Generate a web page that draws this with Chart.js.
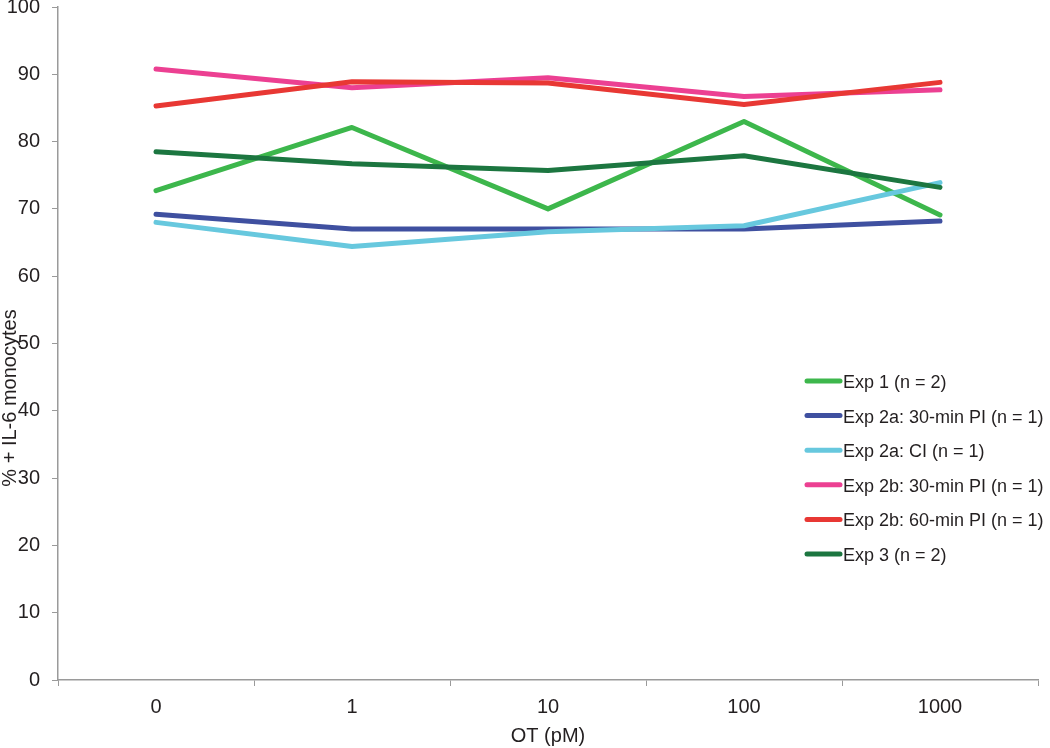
<!DOCTYPE html>
<html>
<head>
<meta charset="utf-8">
<script src="https://cdn.jsdelivr.net/npm/chart.js@4"></script>
<style>
  html, body { margin: 0; padding: 0; background: #fff; }
  #wrap { width: 1050px; height: 748px; }
</style>
</head>
<body>
<div id="wrap"><canvas id="c" width="1050" height="748"></canvas></div>
<script>
const categories = ['0', '1', '10', '100', '1000'];
const seriesLabels = [
  'Exp 1 (n = 2)',
  'Exp 2a: 30-min PI (n = 1)',
  'Exp 2a: CI (n = 1)',
  'Exp 2b: 30-min PI (n = 1)',
  'Exp 2b: 60-min PI (n = 1)',
  'Exp 3 (n = 2)'
];
const exp1      = [72.7, 82.1, 70.0, 83.0, 69.1];
const exp2aPI30 = [69.2, 67.0, 67.0, 67.0, 68.2];
const exp2aCI   = [68.0, 64.4, 66.6, 67.5, 73.9];
const exp2bPI30 = [90.8, 88.0, 89.5, 86.7, 87.7];
const exp2bPI60 = [85.3, 88.9, 88.7, 85.5, 88.8];
const exp3      = [78.5, 76.7, 75.7, 77.9, 73.2];
const yTitle = '% + IL-6 monocytes';
const xTitle = 'OT (pM)';

const colors = ['#3db74c', '#3f50a0', '#67c8de', '#ec4092', '#e83834', '#1c7640'];
const allSeries = [exp1, exp2aPI30, exp2aCI, exp2bPI30, exp2bPI60, exp3];

const FONT = 'Liberation Sans, Arial, sans-serif';
const TEXT = '#231f20';
const AXIS = '#9a9a9a';

const datasets = allSeries.map((d, i) => ({
  label: seriesLabels[i],
  data: d,
  borderColor: colors[i],
  backgroundColor: colors[i],
  borderWidth: 5,
  pointRadius: 0,
  pointHoverRadius: 0,
  tension: 0,
  fill: false,
  borderCapStyle: 'round',
  borderJoinStyle: 'round',
  order: allSeries.length - 1 - i
}));

const customLegend = {
  id: 'customLegend',
  afterDraw(chart) {
    const ctx = chart.ctx;
    ctx.save();
    ctx.font = '18px ' + FONT;
    ctx.textBaseline = 'middle';
    ctx.textAlign = 'left';
    chart.data.datasets.forEach((ds, i) => {
      const y = 381 + i * 34.6;
      ctx.strokeStyle = ds.borderColor;
      ctx.lineWidth = 5;
      ctx.lineCap = 'round';
      ctx.beginPath();
      ctx.moveTo(807, y);
      ctx.lineTo(840, y);
      ctx.stroke();
      ctx.fillStyle = TEXT;
      ctx.fillText(ds.label, 843, y + 2);
    });
    ctx.restore();
  }
};

const yTitlePlugin = {
  id: 'yTitlePlugin',
  afterDraw(chart) {
    const ctx = chart.ctx;
    ctx.save();
    ctx.font = '20px ' + FONT;
    ctx.fillStyle = TEXT;
    ctx.textAlign = 'center';
    ctx.textBaseline = 'middle';
    ctx.translate(10, 398);
    ctx.rotate(-Math.PI / 2);
    ctx.fillText(yTitle, 0, 0);
    ctx.restore();
  }
};

new Chart(document.getElementById('c'), {
  type: 'line',
  data: { labels: categories, datasets },
  options: {
    responsive: false,
    animation: false,
    devicePixelRatio: 1,
    layout: { padding: { left: 0, right: 12, top: 7, bottom: 0 } },
    plugins: {
      legend: { display: false },
      tooltip: { enabled: false }
    },
    scales: {
      x: {
        offset: true,
        grid: {
          offset: true,
          drawOnChartArea: false,
          drawTicks: true,
          tickLength: 6,
          color: AXIS
        },
        border: { color: AXIS, width: 1.5 },
        ticks: {
          font: { family: FONT, size: 20 },
          color: TEXT,
          padding: 9,
          maxRotation: 0
        },
        title: {
          display: true,
          text: xTitle,
          font: { family: FONT, size: 20 },
          color: TEXT,
          padding: { top: 0, bottom: 0 }
        },
        afterFit(scale) {
          scale.height = 68;
          scale.paddingLeft = 0;
          scale.paddingRight = 0;
        }
      },
      y: {
        min: 0,
        max: 100,
        grid: {
          drawOnChartArea: false,
          drawTicks: true,
          tickLength: 6,
          color: AXIS
        },
        border: { color: AXIS, width: 1.5 },
        ticks: {
          stepSize: 10,
          font: { family: FONT, size: 20 },
          color: TEXT,
          padding: 12
        },
        afterFit(scale) {
          scale.width = 58;
          scale.paddingTop = 0;
          scale.paddingBottom = 0;
        }
      }
    }
  },
  plugins: [customLegend, yTitlePlugin]
});
</script>
</body>
</html>
